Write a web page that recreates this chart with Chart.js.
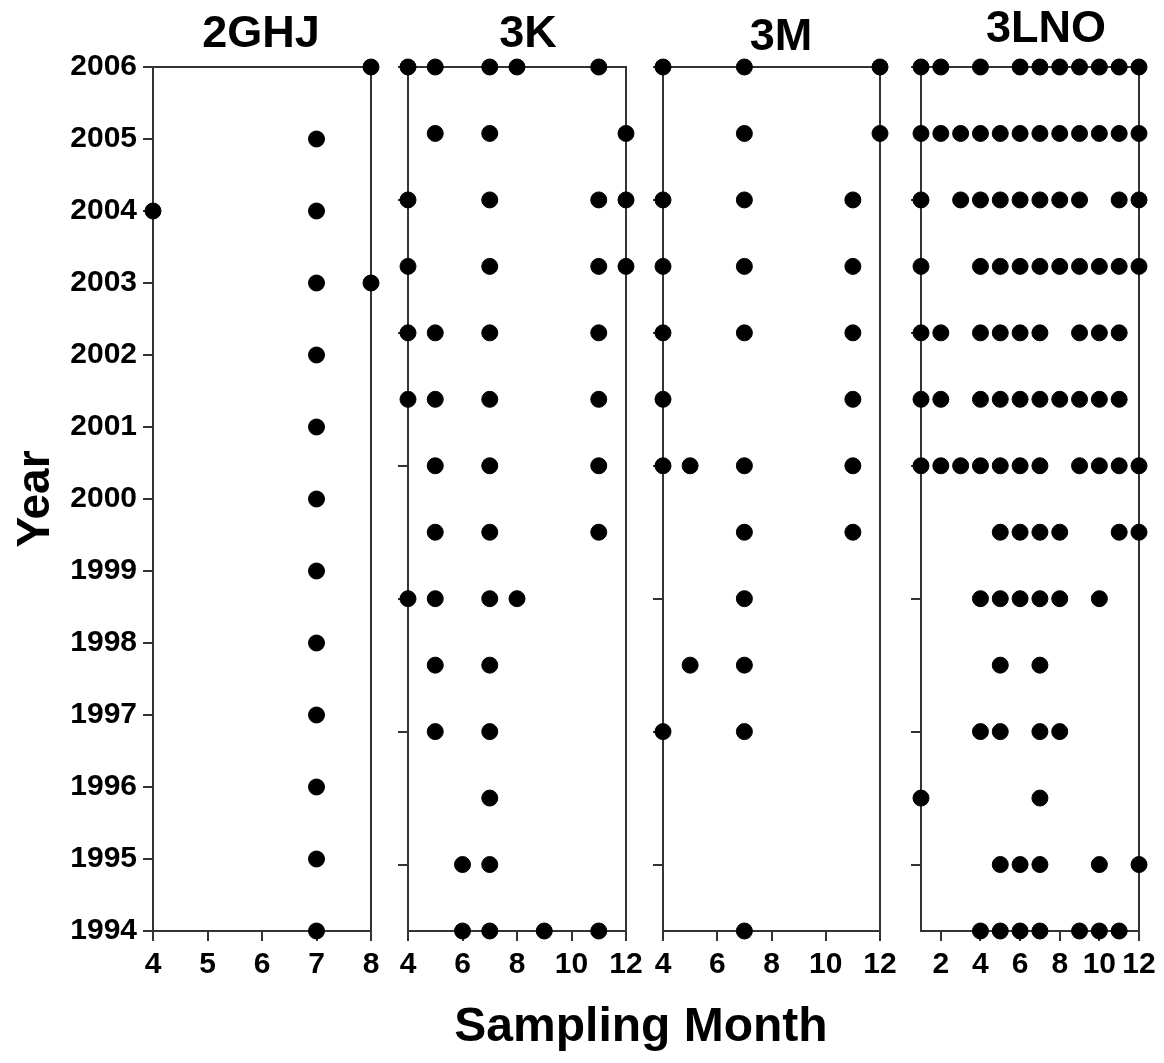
<!DOCTYPE html>
<html>
<head>
<meta charset="utf-8">
<script src="https://cdn.jsdelivr.net/npm/chart.js@4.4.1/dist/chart.umd.min.js"></script>
<style>
  html, body { margin: 0; padding: 0; background: #fff; }
  #wrap { position: relative; width: 1164px; height: 1063px; }
  #wrap canvas { position: absolute; left: 0; top: 0; }
</style>
</head>
<body>
<div id="wrap">
  <canvas id="c0" width="1164" height="1063"></canvas>
  <canvas id="c1" width="1164" height="1063"></canvas>
  <canvas id="c2" width="1164" height="1063"></canvas>
  <canvas id="c3" width="1164" height="1063"></canvas>
</div>
<script>
// rows of each panel, top row first
const years2GHJ = [2006, 2005, 2004, 2003, 2002, 2001, 2000, 1999, 1998, 1997, 1996, 1995, 1994];
const years3 = [2006, 2005, 2004, 2003, 2002, 2001, 2000, 1999, 1998, 1997, 1996, 1995, 1994, 1993];

// sampling months found in each row
const months2GHJ = [[8], [7], [4, 7], [7, 8], [7], [7], [7], [7], [7], [7], [7], [7], [7]];
const months3K = [
  [4, 5, 7, 8, 11], [5, 7, 12], [4, 7, 11, 12], [4, 7, 11, 12], [4, 5, 7, 11], [4, 5, 7, 11],
  [5, 7, 11], [5, 7, 11], [4, 5, 7, 8], [5, 7], [5, 7], [7], [6, 7], [6, 7, 9, 11]
];
const months3M = [
  [4, 7, 12], [7, 12], [4, 7, 11], [4, 7, 11], [4, 7, 11], [4, 11],
  [4, 5, 7, 11], [7, 11], [7], [5, 7], [4, 7], [], [], [7]
];
const months3LNO = [
  [1, 2, 4, 6, 7, 8, 9, 10, 11, 12],
  [1, 2, 3, 4, 5, 6, 7, 8, 9, 10, 11, 12],
  [1, 3, 4, 5, 6, 7, 8, 9, 11, 12],
  [1, 4, 5, 6, 7, 8, 9, 10, 11, 12],
  [1, 2, 4, 5, 6, 7, 9, 10, 11],
  [1, 2, 4, 5, 6, 7, 8, 9, 10, 11],
  [1, 2, 3, 4, 5, 6, 7, 9, 10, 11, 12],
  [5, 6, 7, 8, 11, 12],
  [4, 5, 6, 7, 8, 10],
  [5, 7],
  [4, 5, 7, 8],
  [1, 7],
  [5, 6, 7, 10, 12],
  [4, 5, 6, 7, 9, 10, 11]
];

const panelNames = ["2GHJ", "3K", "3M", "3LNO"];
const xMin = [4, 4, 4, 1];
const xMax = [8, 12, 12, 12];
const yMin = [1994, 1993, 1993, 1993];
const yMax = [2006, 2006, 2006, 2006];
const xTicks = [[4, 5, 6, 7, 8], [4, 6, 8, 10, 12], [4, 6, 8, 10, 12], [2, 4, 6, 8, 10, 12]];
const yTicks2GHJ = [1994, 1995, 1996, 1997, 1998, 1999, 2000, 2001, 2002, 2003, 2004, 2005, 2006];
const yTicks3 = [1994, 1996, 1998, 2000, 2002, 2004, 2006];

const INK = "#000";
const LINE = "#333";
const FONT = "'Liberation Sans', Arial, sans-serif";

// plot boxes on the page
const boxes = [
  { left: 153, right: 371 },
  { left: 408, right: 626 },
  { left: 663, right: 880 },
  { left: 921, right: 1139 }
];
const plotTop = 67, plotBottom = 931, xAxisH = 70;
const titleSpots = [
  { x: 261, y: 47 }, { x: 528, y: 47 }, { x: 781, y: 50 }, { x: 1046, y: 42 }
];

Chart.defaults.font.family = FONT;

function toPoints(years, months) {
  const pts = [];
  years.forEach((yr, i) => months[i].forEach(m => pts.push({ x: m, y: yr })));
  return pts;
}

const panelData = [
  toPoints(years2GHJ, months2GHJ),
  toPoints(years3, months3K),
  toPoints(years3, months3M),
  toPoints(years3, months3LNO)
];

const framePlugin = {
  id: "frame",
  beforeDatasetsDraw(chart) {
    const { ctx, chartArea: a } = chart;
    ctx.save();
    ctx.strokeStyle = LINE;
    ctx.lineWidth = 2;
    ctx.strokeRect(a.left, a.top, a.right - a.left, a.bottom - a.top);
    ctx.restore();
  }
};

const textPlugin = {
  id: "texts",
  afterDraw(chart, args, opts) {
    const ctx = chart.ctx;
    ctx.save();
    ctx.fillStyle = INK;
    ctx.textAlign = "center";
    ctx.textBaseline = "alphabetic";
    (opts.items || []).forEach(t => {
      ctx.font = "bold " + t.size + "px " + FONT;
      ctx.fillText(t.text, t.x, t.y);
    });
    ctx.restore();
  }
};

function makePanel(i) {
  const first = i === 0;
  const yw = first ? 153 : 10;
  const texts = [{ text: panelNames[i], x: titleSpots[i].x, y: titleSpots[i].y, size: 45 }];
  if (first) texts.push({ text: "Sampling Month", x: 641, y: 1041, size: 48 });

  new Chart(document.getElementById("c" + i), {
    type: "scatter",
    data: {
      datasets: [{
        data: panelData[i],
        pointRadius: 8,
        pointHoverRadius: 8,
        pointBackgroundColor: INK,
        pointBorderColor: INK,
        pointBorderWidth: 1,
        clip: false
      }]
    },
    options: {
      responsive: false,
      animation: false,
      devicePixelRatio: 1,
      events: [],
      layout: {
        padding: {
          left: boxes[i].left - yw,
          right: 1164 - boxes[i].right,
          top: plotTop,
          bottom: 1063 - plotBottom - xAxisH
        }
      },
      plugins: {
        legend: { display: false },
        tooltip: { enabled: false },
        texts: { items: texts }
      },
      scales: {
        x: {
          type: "linear",
          min: xMin[i],
          max: xMax[i],
          afterBuildTicks: s => { s.ticks = xTicks[i].map(v => ({ value: v })); },
          afterFit: s => { s.height = xAxisH; },
          border: { display: false },
          grid: { drawOnChartArea: false, tickLength: 10, color: LINE, lineWidth: 2 },
          ticks: {
            color: INK,
            font: { size: 30, weight: "bold" },
            padding: 6,
            maxRotation: 0,
            autoSkip: false,
            callback: v => String(v)
          }
        },
        y: {
          type: "linear",
          min: yMin[i],
          max: yMax[i],
          afterBuildTicks: s => {
            s.ticks = (first ? yTicks2GHJ : yTicks3).map(v => ({ value: v }));
          },
          afterFit: s => { s.width = yw; },
          border: { display: false },
          grid: { drawOnChartArea: false, tickLength: 10, color: LINE, lineWidth: 2 },
          title: {
            display: first,
            text: "Year",
            color: INK,
            font: { size: 46, weight: "bold" },
            padding: { top: 9, bottom: 0 }
          },
          ticks: {
            display: first,
            color: INK,
            font: { size: 30, weight: "bold" },
            padding: 6,
            autoSkip: false,
            callback: v => String(v)
          }
        }
      }
    },
    plugins: [framePlugin, textPlugin]
  });
}

[0, 1, 2, 3].forEach(makePanel);
</script>
</body>
</html>
